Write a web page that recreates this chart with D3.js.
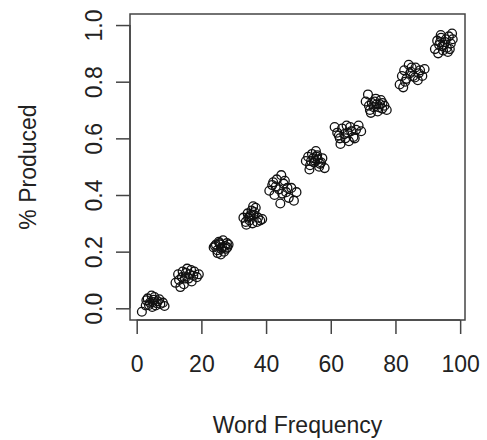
<!DOCTYPE html>
<html>
<head>
<meta charset="utf-8">
<script src="https://cdn.jsdelivr.net/npm/d3@7/dist/d3.min.js"></script>
<style>
  html, body { margin: 0; padding: 0; background: #fff; }
  svg text { font-family: "Liberation Sans", Arial, Helvetica, sans-serif; fill: #222; }
</style>
</head>
<body>
<svg id="chart" width="487" height="440"></svg>
<script>
// Word frequency (x) and proportion produced (y)
const wordFrequency = [
  1.6, 2.8, 3.4, 4.1, 4.6, 5.2, 5.9, 6.5, 7.3, 8.1, 3.0, 4.8, 5.5, 6.2, 7.0, 3.8, 5.0, 8.6,
  12.0, 12.8, 13.5, 14.2, 14.9, 15.6, 16.3, 17.0, 17.8, 18.6, 13.1, 14.6, 15.2, 16.0, 16.8, 17.5, 19.2, 14.0,
  23.8, 24.5, 25.0, 25.6, 26.1, 26.7, 27.3, 27.9, 28.4, 24.9, 25.4, 26.4, 27.0, 27.6, 24.2, 26.0, 25.8, 28.0,
  33.0, 33.7, 34.3, 34.9, 35.5, 36.1, 36.8, 37.5, 38.2, 33.9, 35.0, 35.8, 36.4, 37.2, 34.5, 36.0, 38.8, 35.3,
  41.0, 41.9, 42.6, 43.3, 44.0, 44.7, 45.4, 46.2, 47.0, 47.8, 48.6, 49.4, 43.0, 44.4, 45.8, 46.6, 42.2, 45.0,
  52.3, 53.0, 53.6, 54.2, 54.8, 55.4, 56.0, 56.7, 57.4, 58.1, 53.4, 54.6, 55.8, 56.4, 55.1, 53.9, 57.0, 55.6,
  61.2, 62.0, 62.8, 63.5, 64.2, 64.9, 65.6, 66.3, 67.0, 67.8, 68.6, 69.4, 63.0, 64.5, 66.0, 67.4, 65.2, 62.5,
  70.8, 71.5, 72.1, 72.7, 73.3, 73.9, 74.5, 75.2, 75.9, 76.6, 77.3, 72.4, 73.6, 74.8, 76.0, 71.8, 74.2, 75.5,
  81.3, 82.0, 82.7, 83.4, 84.1, 84.8, 85.5, 86.2, 86.9, 87.6, 88.3, 89.0, 83.0, 84.5, 86.0, 87.2, 85.0, 82.4,
  92.2, 92.9, 93.5, 94.1, 94.7, 95.3, 95.9, 96.5, 97.1, 97.7, 93.2, 94.4, 95.6, 96.8, 94.0, 95.0, 96.2, 93.8, 97.5
];
const percentProduced = [
  -0.012, 0.010, 0.035, 0.020, 0.045, 0.030, 0.010, 0.025, 0.015, 0.020, 0.028, 0.005, 0.040, 0.018, 0.032, 0.012, 0.022, 0.008,
  0.090, 0.120, 0.075, 0.130, 0.105, 0.140, 0.120, 0.095, 0.130, 0.110, 0.100, 0.085, 0.125, 0.105, 0.135, 0.115, 0.120, 0.110,
  0.215, 0.225, 0.195, 0.230, 0.210, 0.240, 0.220, 0.230, 0.225, 0.205, 0.235, 0.215, 0.200, 0.210, 0.220, 0.190, 0.225, 0.215,
  0.320, 0.305, 0.335, 0.310, 0.345, 0.330, 0.355, 0.320, 0.310, 0.295, 0.325, 0.300, 0.340, 0.305, 0.320, 0.360, 0.315, 0.330,
  0.415, 0.435, 0.400, 0.455, 0.420, 0.470, 0.440, 0.410, 0.390, 0.425, 0.380, 0.410, 0.430, 0.370, 0.450, 0.425, 0.445, 0.405,
  0.520, 0.535, 0.505, 0.545, 0.515, 0.555, 0.525, 0.510, 0.530, 0.495, 0.490, 0.530, 0.540, 0.500, 0.520, 0.520, 0.515, 0.535,
  0.640, 0.620, 0.600, 0.635, 0.615, 0.645, 0.590, 0.625, 0.605, 0.630, 0.645, 0.625, 0.580, 0.600, 0.640, 0.600, 0.620, 0.610,
  0.730, 0.755, 0.700, 0.725, 0.710, 0.740, 0.695, 0.720, 0.705, 0.715, 0.700, 0.690, 0.730, 0.710, 0.725, 0.715, 0.720, 0.735,
  0.790, 0.820, 0.840, 0.810, 0.860, 0.835, 0.820, 0.850, 0.805, 0.840, 0.820, 0.845, 0.800, 0.830, 0.815, 0.830, 0.850, 0.780,
  0.915, 0.945, 0.930, 0.955, 0.910, 0.940, 0.920, 0.960, 0.935, 0.950, 0.900, 0.925, 0.950, 0.915, 0.965, 0.930, 0.905, 0.940, 0.970
];
const xTicks = [0, 20, 40, 60, 80, 100];
const yTicks = [0.0, 0.2, 0.4, 0.6, 0.8, 1.0];
const xTitle = "Word Frequency";
const yTitle = "% Produced";

const points = wordFrequency.map((x, i) => ({ x, y: percentProduced[i] }));

const box = { left: 130, right: 465, top: 14, bottom: 320 };
const x = d3.scaleLinear().domain([-2.07, 101.5]).range([box.left, box.right]);
const y = d3.scaleLinear().domain([-0.0413, 1.039]).range([box.bottom, box.top]);

const svg = d3.select("#chart");
const axisColor = "#444";
const fontSize = 23;

// points
svg.append("g").selectAll("circle").data(points).join("circle")
  .attr("cx", d => x(d.x)).attr("cy", d => y(d.y)).attr("r", 4.4)
  .attr("fill", "none").attr("stroke", "#111").attr("stroke-width", 1.3);

// box
svg.append("rect")
  .attr("x", box.left).attr("y", box.top)
  .attr("width", box.right - box.left).attr("height", box.bottom - box.top)
  .attr("fill", "none").attr("stroke", axisColor).attr("stroke-width", 1.5);

// bottom axis
const xAxis = svg.append("g").attr("transform", `translate(0,${box.bottom})`)
  .call(d3.axisBottom(x).tickValues(xTicks).tickSize(14).tickPadding(22).tickFormat(d3.format("d")));
xAxis.select(".domain").attr("d", `M${x(0)},0H${x(100)}`).attr("stroke", axisColor).attr("stroke-width", 1.5);
xAxis.selectAll(".tick line").attr("stroke", axisColor).attr("stroke-width", 1.5);
xAxis.selectAll(".tick text").attr("font-size", fontSize).attr("font-family", "Liberation Sans, Arial, sans-serif").attr("fill", "#222");

// left axis
const yAxis = svg.append("g").attr("transform", `translate(${box.left},0)`)
  .call(d3.axisLeft(y).tickValues(yTicks).tickSize(14).tickFormat(d3.format(".1f")));
yAxis.select(".domain").attr("d", `M0,${y(0)}V${y(1)}`).attr("stroke", axisColor).attr("stroke-width", 1.5);
yAxis.selectAll(".tick line").attr("stroke", axisColor).attr("stroke-width", 1.5);
yAxis.selectAll(".tick text")
  .attr("font-size", fontSize).attr("font-family", "Liberation Sans, Arial, sans-serif").attr("fill", "#222")
  .attr("x", null).attr("dy", null)
  .attr("text-anchor", "middle")
  .attr("transform", "translate(-28,0) rotate(-90)");

// titles
svg.append("text").attr("x", (box.left + box.right) / 2).attr("y", 433)
  .attr("text-anchor", "middle").attr("font-size", fontSize).text(xTitle);
svg.append("text").attr("transform", `translate(36,${(box.top + box.bottom) / 2}) rotate(-90)`)
  .attr("text-anchor", "middle").attr("font-size", fontSize).text(yTitle);
</script>
</body>
</html>
